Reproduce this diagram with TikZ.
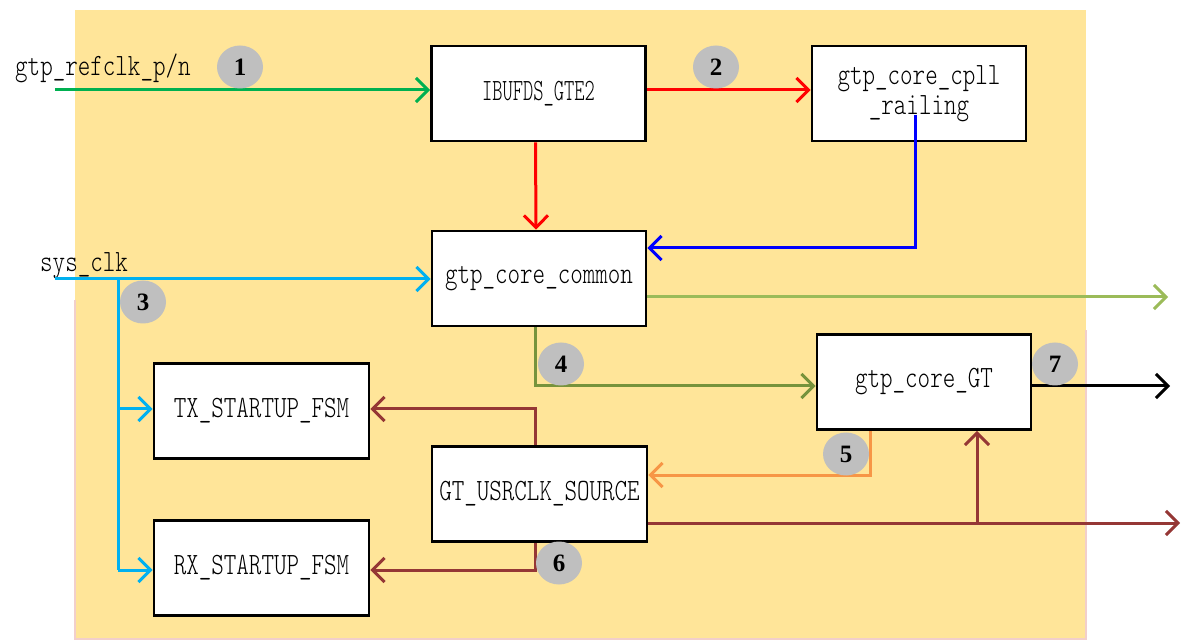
\documentclass[tikz,border=0pt]{standalone}
\usepackage{fontspec}
\setmainfont{Liberation Serif}
\newfontfamily\condf{lmmonolt10-regular.otf}[FakeStretch=0.77]
\newfontfamily\condg{lmmonolt10-regular.otf}[FakeStretch=0.63]
\usetikzlibrary{arrows.meta,shapes.geometric,calc}
\definecolor{bgyel}{HTML}{FFE599}
\definecolor{bgpink}{HTML}{F2CFCB}
\definecolor{cgreen}{HTML}{00B050}
\definecolor{cred}{HTML}{FF0000}
\definecolor{cblue}{HTML}{0000FF}
\definecolor{ccyan}{HTML}{00B0F0}
\definecolor{clgreen}{HTML}{9BBB59}
\definecolor{colive}{HTML}{77933C}
\definecolor{corange}{HTML}{F79646}
\definecolor{cbrown}{HTML}{953735}
\definecolor{cgray}{HTML}{BFBFBF}
\tikzset{
  blk/.style={draw=black, line width=2.8pt, fill=white, minimum width=214pt, minimum height=95pt, inner sep=0pt, font=\condf\fontsize{31}{34}\selectfont, align=center},
  lbl/.style={inner sep=0pt, font=\condf\fontsize{31}{34}\selectfont},
  num/.style={ellipse, fill=cgray, minimum width=46pt, minimum height=43pt, inner sep=0pt, font=\bfseries\fontsize{25}{27}\selectfont},
  conn/.style={line width=3pt, -{Straight Barb[length=12pt,width=24pt]}},
  seg/.style={line width=3pt}
}
\begin{document}
\begin{tikzpicture}[x=1pt,y=-1pt]
\useasboundingbox (0,0) rectangle (1187,644);
% background
\fill[bgyel] (75,10) rectangle (1086,639);
\draw[bgpink, line width=1.5pt] (75,300) -- (75,639) -- (1086,639) -- (1086,330);
% boxes
\node[blk] (ibuf) at (538.5,93.5) {\condg IBUFDS\_GTE2};
\node[blk] (cpll) at (919,93.5) {gtp\_core\_cpll\\[-4pt]\_railing};
\node[blk] (common) at (539,278.5) {gtp\_core\_common};
\node[blk] (gt) at (924,382) {gtp\_core\_GT};
\node[blk, minimum width=215pt] (tx) at (261.5,411) {TX\_STARTUP\_FSM};
\node[blk, minimum width=215pt] (usr) at (539.5,494) {GT\_USRCLK\_SOURCE};
\node[blk, minimum width=215pt] (rx) at (261.5,568) {RX\_STARTUP\_FSM};
% labels
\node[lbl, anchor=base west] (reflbl) at (15,76) {gtp\_refclk\_p/n};
\node[lbl, anchor=base west] (syslbl) at (40,272) {sys\_clk};
% coordinates
\coordinate (gin) at (55,90);
\coordinate (bstart) at (915,115);
\coordinate (bcorner) at (915,248);
\coordinate (sin) at (55,279);
\coordinate (sb) at (118,279);
\coordinate (sbt) at (118,409);
\coordinate (sbr) at (118,570);
\coordinate (lgout) at (1168,297);
\coordinate (olc) at (535,386);
\coordinate (blkout) at (1170,386);
\coordinate (oc) at (870,475);
\coordinate (bt) at (535,409);
\coordinate (bb) at (535,570);
\coordinate (bout) at (1180,523);
\coordinate (bj) at (977,523);
% connectors
\draw[conn, cgreen] (gin) -- (gin -| ibuf.west);
\draw[conn, cred] (gin -| ibuf.east) -- (gin -| cpll.west);
\draw[conn, cred] ([xshift=-3pt]ibuf.south) -- ([xshift=-3pt]common.north);
\draw[conn, cblue] (bstart) -- (bcorner) -- (bcorner -| common.east);
\draw[conn, ccyan] (sin) -- (sin -| common.west);
\draw[seg, ccyan] (sb) -- (sbr);
\draw[conn, ccyan] (sbt) -- (sbt -| tx.west);
\draw[conn, ccyan] (sbr) -- (sbr -| rx.west);
\draw[conn, clgreen] (lgout -| common.east) -- (lgout);
\draw[conn, colive] (olc |- common.south) -- (olc) -- (olc -| gt.west);
\draw[conn, black] (olc -| gt.east) -- (blkout);
\draw[conn, corange] (oc |- gt.south) -- (oc) -- (oc -| usr.east);
\draw[conn, cbrown] (bt |- usr.north) -- (bt) -- (bt -| tx.east);
\draw[conn, cbrown] (bb |- usr.south) -- (bb) -- (bb -| rx.east);
\draw[conn, cbrown] (bout -| usr.east) -- (bout);
\draw[conn, cbrown] (bj) -- (bj |- gt.south);
% numbers
\node[num] (n1) at (240,67) {1};
\node[num] (n2) at (716,67) {2};
\node[num] (n3) at (143,302) {3};
\node[num] (n4) at (561,364) {4};
\node[num] (n5) at (846,454) {5};
\node[num] (n6) at (559,563) {6};
\node[num] (n7) at (1055,364) {7};
\end{tikzpicture}
\end{document}
